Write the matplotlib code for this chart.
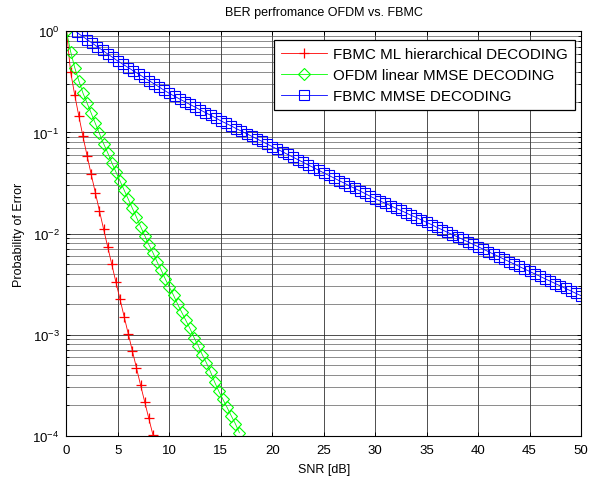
import numpy as np
import matplotlib
matplotlib.use('Agg')
import matplotlib.pyplot as plt
from matplotlib.ticker import LogLocator, MultipleLocator, NullFormatter

plt.rcParams['font.family'] = ['Liberation Sans', 'DejaVu Sans']
plt.rcParams['mathtext.fontset'] = 'custom'
plt.rcParams['mathtext.rm'] = 'Liberation Sans'
plt.rcParams['font.size'] = 9

# FBMC ML hierarchical decoding (red +)
snr_ml = np.arange(0, 8.41, 0.4)
ber_ml = [1.0, 0.398, 0.234, 0.145, 0.0912, 0.0589, 0.0385, 0.0254, 0.0168, 0.0111,
          0.00741, 0.00495, 0.00331, 0.00224, 0.00151, 0.00102, 0.000692, 0.000468,
          0.000316, 0.000216, 0.000148, 0.000102]

# OFDM linear MMSE decoding (green diamonds)
snr_ofdm = np.arange(0, 16.81, 0.4)
ber_ofdm = [1.0, 0.631, 0.437, 0.324, 0.245, 0.195, 0.155, 0.123, 0.0977, 0.0776,
            0.0631, 0.0501, 0.0407, 0.0331, 0.0269, 0.0219, 0.0178, 0.0145, 0.0117,
            0.00955, 0.00776, 0.00646, 0.00525, 0.00437, 0.00355, 0.00295, 0.00245,
            0.00200, 0.00166, 0.00138, 0.00115, 0.000933, 0.000776, 0.000631,
            0.000525, 0.000427, 0.000339, 0.000275, 0.000229, 0.000191, 0.000158,
            0.000132, 0.000107]

# FBMC MMSE decoding (blue squares)
snr_fbmc = np.arange(1, 50.01, 0.5)
ber_fbmc = [0.977, 0.899, 0.830, 0.764, 0.703, 0.649, 0.597, 0.551, 0.507,
            0.471, 0.438, 0.406, 0.378, 0.351, 0.326, 0.303, 0.281, 0.261, 0.243,
            0.228, 0.214, 0.201, 0.189, 0.178, 0.167, 0.157, 0.148, 0.139, 0.130,
            0.123, 0.116, 0.109, 0.103, 0.0971, 0.0916, 0.0863, 0.0815, 0.0767, 0.0724,
            0.0682, 0.0643, 0.0605, 0.0570, 0.0537, 0.0506, 0.0476, 0.0449, 0.0423, 0.0398,
            0.0375, 0.0354, 0.0333, 0.0315, 0.0296, 0.0280, 0.0264, 0.0249, 0.0234, 0.0221,
            0.0209, 0.0199, 0.0188, 0.0178, 0.0169, 0.0160, 0.0151, 0.0144, 0.0136, 0.0129,
            0.0122, 0.0115, 0.0109, 0.0103, 0.00977, 0.00925, 0.00875, 0.00828, 0.00783, 0.00741,
            0.00700, 0.00662, 0.00625, 0.00592, 0.00558, 0.00528, 0.00499, 0.00472, 0.00446, 0.00422,
            0.00399, 0.00378, 0.00357, 0.00338, 0.00320, 0.00303, 0.00286, 0.00271, 0.00256, 0.00243]

labels = ['FBMC ML hierarchical DECODING', 'OFDM linear MMSE DECODING', 'FBMC MMSE DECODING']

fig = plt.figure(figsize=(5.89, 4.81), dpi=100)
ax = fig.add_axes([0.1129, 0.0921, 0.8735, 0.8407])

ax.semilogy(snr_ml, ber_ml, color='r', lw=0.6, marker='+', ms=7.5, mew=0.9, label=labels[0])
ax.semilogy(snr_ofdm, ber_ofdm, color=(0, 1, 0), lw=0.6, marker='D', ms=6.5, mew=0.8,
            mfc='none', label=labels[1])
ax.semilogy(snr_fbmc, ber_fbmc, color='b', lw=0.6, marker='s', ms=7.5, mew=0.8,
            mfc='none', label=labels[2])

ax.set_xlim(0, 50)
ax.set_ylim(1e-4, 1)
ax.xaxis.set_major_locator(MultipleLocator(5))
ax.yaxis.set_major_locator(LogLocator(base=10, numticks=10))
ax.yaxis.set_minor_locator(LogLocator(base=10, subs=np.arange(2, 10), numticks=10))
ax.yaxis.set_minor_formatter(NullFormatter())

ax.grid(True, which='major', color='#202020', lw=0.7, alpha=0.8)
ax.grid(True, which='minor', axis='y', color='#404040', lw=0.6, alpha=0.7)
ax.set_axisbelow(True)

ax.tick_params(which='both', direction='in', top=True, right=True, labelsize=9.5)
ax.tick_params(which='major', length=3, width=0.7)
ax.tick_params(which='minor', length=2, width=0.6)
ax.tick_params(axis='x', pad=6)
ax.tick_params(axis='y', pad=5)
for s in ax.spines.values():
    s.set_linewidth(0.8)

ax.set_title('BER perfromance OFDM vs. FBMC', fontsize=9, pad=12)
ax.set_xlabel('SNR [dB]', fontsize=9, labelpad=5)
ax.set_ylabel('Probability of Error', fontsize=9, labelpad=5)

leg = ax.legend(loc='upper right', bbox_to_anchor=(0.9883, 0.9785), borderaxespad=0,
                fancybox=False, edgecolor='k', framealpha=1, fontsize=10.9,
                handlelength=3.05, handletextpad=0.4, labelspacing=0.47,
                borderpad=0.45)
leg.get_frame().set_linewidth(0.9)

fig.savefig('out.png', dpi=100)
